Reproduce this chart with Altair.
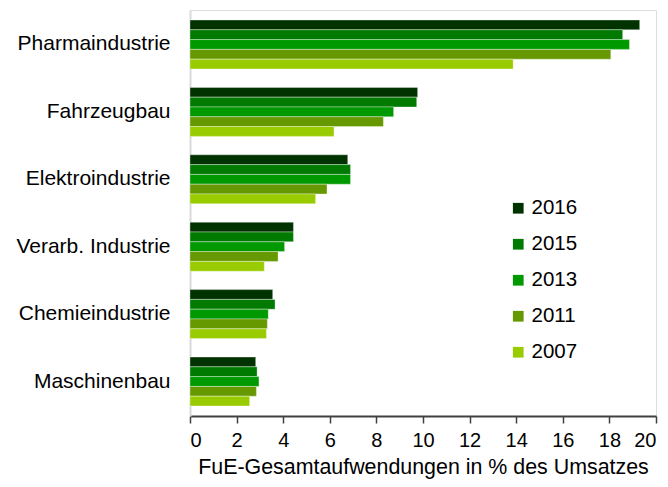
import altair as alt
import pandas as pd

categories = ["Pharmaindustrie", "Fahrzeugbau", "Elektroindustrie",
              "Verarb. Industrie", "Chemieindustrie", "Maschinenbau"]
years = ["2016", "2015", "2013", "2011", "2007"]
colors = ["#003300", "#007a00", "#009900", "#669900", "#99cc00"]

v2016 = [19.3, 9.77, 6.77, 4.44, 3.55, 2.82]
v2015 = [18.57, 9.73, 6.89, 4.44, 3.65, 2.88]
v2013 = [18.86, 8.74, 6.89, 4.06, 3.36, 2.96]
v2011 = [18.06, 8.30, 5.88, 3.78, 3.32, 2.85]
v2007 = [13.87, 6.18, 5.39, 3.19, 3.28, 2.56]

x_ticks = list(range(0, 21, 2))

series = {"2016": v2016, "2015": v2015, "2013": v2013, "2011": v2011, "2007": v2007}
rows = []
for yr in years:
    for cat, val in zip(categories, series[yr]):
        rows.append({"Branche": cat, "Jahr": yr, "Wert": val})
df = pd.DataFrame(rows)

FONT = "Liberation Sans"

chart = alt.Chart(df).mark_bar(
    stroke="white", strokeOpacity=0.35, strokeWidth=1
).encode(
    x=alt.X("Wert:Q",
            scale=alt.Scale(domain=[0, 20], nice=False),
            axis=alt.Axis(values=x_ticks, grid=False, tickSize=7, tickWidth=1.5,
                          tickColor="#404040", domainColor="#404040", domainWidth=2,
                          labelFontSize=20, labelColor="#000000", labelPadding=7,
                          labelFont=FONT, titleFont=FONT,
                          title="FuE-Gesamtaufwendungen in % des Umsatzes",
                          titleFontSize=21.4, titleFontWeight="normal",
                          titleColor="#000000", titlePadding=6)),
    y=alt.Y("Branche:N", sort=categories,
            scale=alt.Scale(paddingInner=0.273, paddingOuter=0.148),
            axis=alt.Axis(title=None, ticks=False, domainColor="#d9d9d9", domainWidth=2,
                          labelFontSize=21, labelColor="#000000", labelPadding=20,
                          labelFont=FONT)),
    yOffset=alt.YOffset("Jahr:N", sort=years,
                        scale=alt.Scale(paddingInner=0, paddingOuter=0)),
    color=alt.Color("Jahr:N", sort=years,
                    scale=alt.Scale(domain=years, range=colors),
                    legend=alt.Legend(title=None, orient="none", legendX=318, legendY=188,
                                      symbolType="square", symbolSize=115,
                                      symbolStrokeWidth=0, labelFontSize=20.5,
                                      labelFont=FONT, labelColor="#000000",
                                      labelOffset=3, rowPadding=15, padding=0)),
).properties(
    width=466,
    height=406,
    autosize=alt.AutoSizeParams(type="none"),
    padding={"left": 182, "top": 2, "right": 4, "bottom": 63},
).configure_view(stroke=None).configure(font=FONT)

chart.save("out.html", embed_options={"renderer": "svg", "actions": False})
